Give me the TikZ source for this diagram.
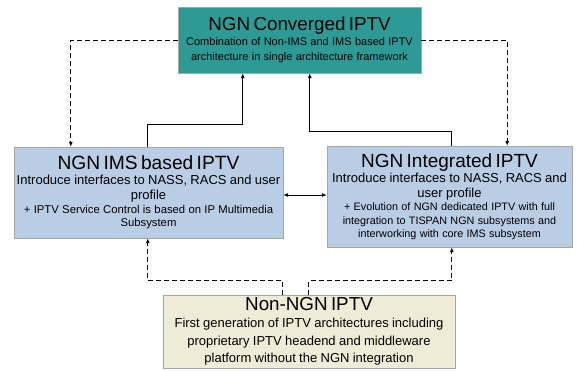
\documentclass[tikz,border=0pt]{standalone}
\usepackage{fontspec}
\setmainfont{Liberation Sans}
\usepackage{tikz}
\usetikzlibrary{arrows.meta}

\definecolor{convteal}{RGB}{46,154,150}
\definecolor{ngnblue}{RGB}{185,205,229}
\definecolor{oldbeige}{RGB}{238,236,214}

\begin{document}
\begin{tikzpicture}[%
        x=1pt, y=-1pt,
        every node/.style={rectangle, draw=gray!70, inner sep=0pt, align=center},
        convbox/.style={fill=convteal, text width=243pt, minimum width=243pt, minimum height=66pt},
        ngnbox/.style={fill=ngnblue},
        oldbox/.style={fill=oldbeige, text width=292pt, minimum width=292pt, minimum height=73pt},
        link/.style={line width=0.9pt, -{Latex[length=5pt,width=4pt]}},
        dlink/.style={link, dash pattern=on 5pt off 3pt}
        ]
        \useasboundingbox (0,0) rectangle (577,370);
        \node[convbox] (conv) at (299.5,40) {{\fontsize{18.8}{21}\selectfont NGN Converged IPTV\par}
            {\fontsize{11}{15}\selectfont Combination of Non-IMS and IMS based IPTV\\architecture in single architecture framework\par}};
        \node[ngnbox, text width=269pt, minimum width=269pt, minimum height=91pt] (ims) at (148.5,192.5)
            {{\fontsize{19.2}{21}\selectfont NGN IMS based IPTV\par}
            {\fontsize{13}{15}\selectfont Introduce interfaces to NASS, RACS and user\\profile\par}
            {\fontsize{11.3}{13.5}\selectfont + IPTV Service Control is based on IP Multimedia\\Subsystem\par}};
        \node[ngnbox, text width=245pt, minimum width=245pt, minimum height=101pt] (integ) at (449.5,196.5)
            {{\fontsize{19}{19}\selectfont NGN Integrated IPTV\par}
            {\fontsize{13}{15}\selectfont Introduce interfaces to NASS, RACS and\\user profile\par}
            {\fontsize{10.8}{13.5}\selectfont + Evolution of NGN dedicated IPTV with full\\integration to TISPAN NGN subsystems and\\interworking with core IMS subsystem\par}};
        \node[oldbox] (nonngn) at (309,331.5) {{\fontsize{18.8}{19}\selectfont Non-NGN IPTV\par}
            {\fontsize{13}{17.5}\selectfont First generation of IPTV architectures including\\proprietary IPTV headend and middleware\\platform without the NGN integration\par}};

        \draw[dlink] (conv.west) -| ([xshift=57pt]ims.north west);
        \draw[dlink] (conv.east) -| ([xshift=-65pt]integ.north east);
        \draw[link] ([xshift=134pt]ims.north west) -- ++(0,-22) -| ([xshift=65pt]conv.south west);
        \draw[link] ([xshift=125pt]integ.north west) -- ++(0,-14) -| ([xshift=132pt]conv.south west);
        \draw[link, {Latex[length=5pt,width=4pt]}-{Latex[length=5pt,width=4pt]}] ([yshift=-2.5pt]ims.east) -- ([yshift=-2.5pt]ims.east -| integ.west);
        \draw[dlink] ([xshift=120pt]nonngn.north west) -- ++(0,-14) -| ([xshift=134pt]ims.south west);
        \draw[dlink] ([xshift=146pt]nonngn.north west) -- ++(0,-14) -| ([xshift=125pt]integ.south west);
    \end{tikzpicture}
\end{document}
